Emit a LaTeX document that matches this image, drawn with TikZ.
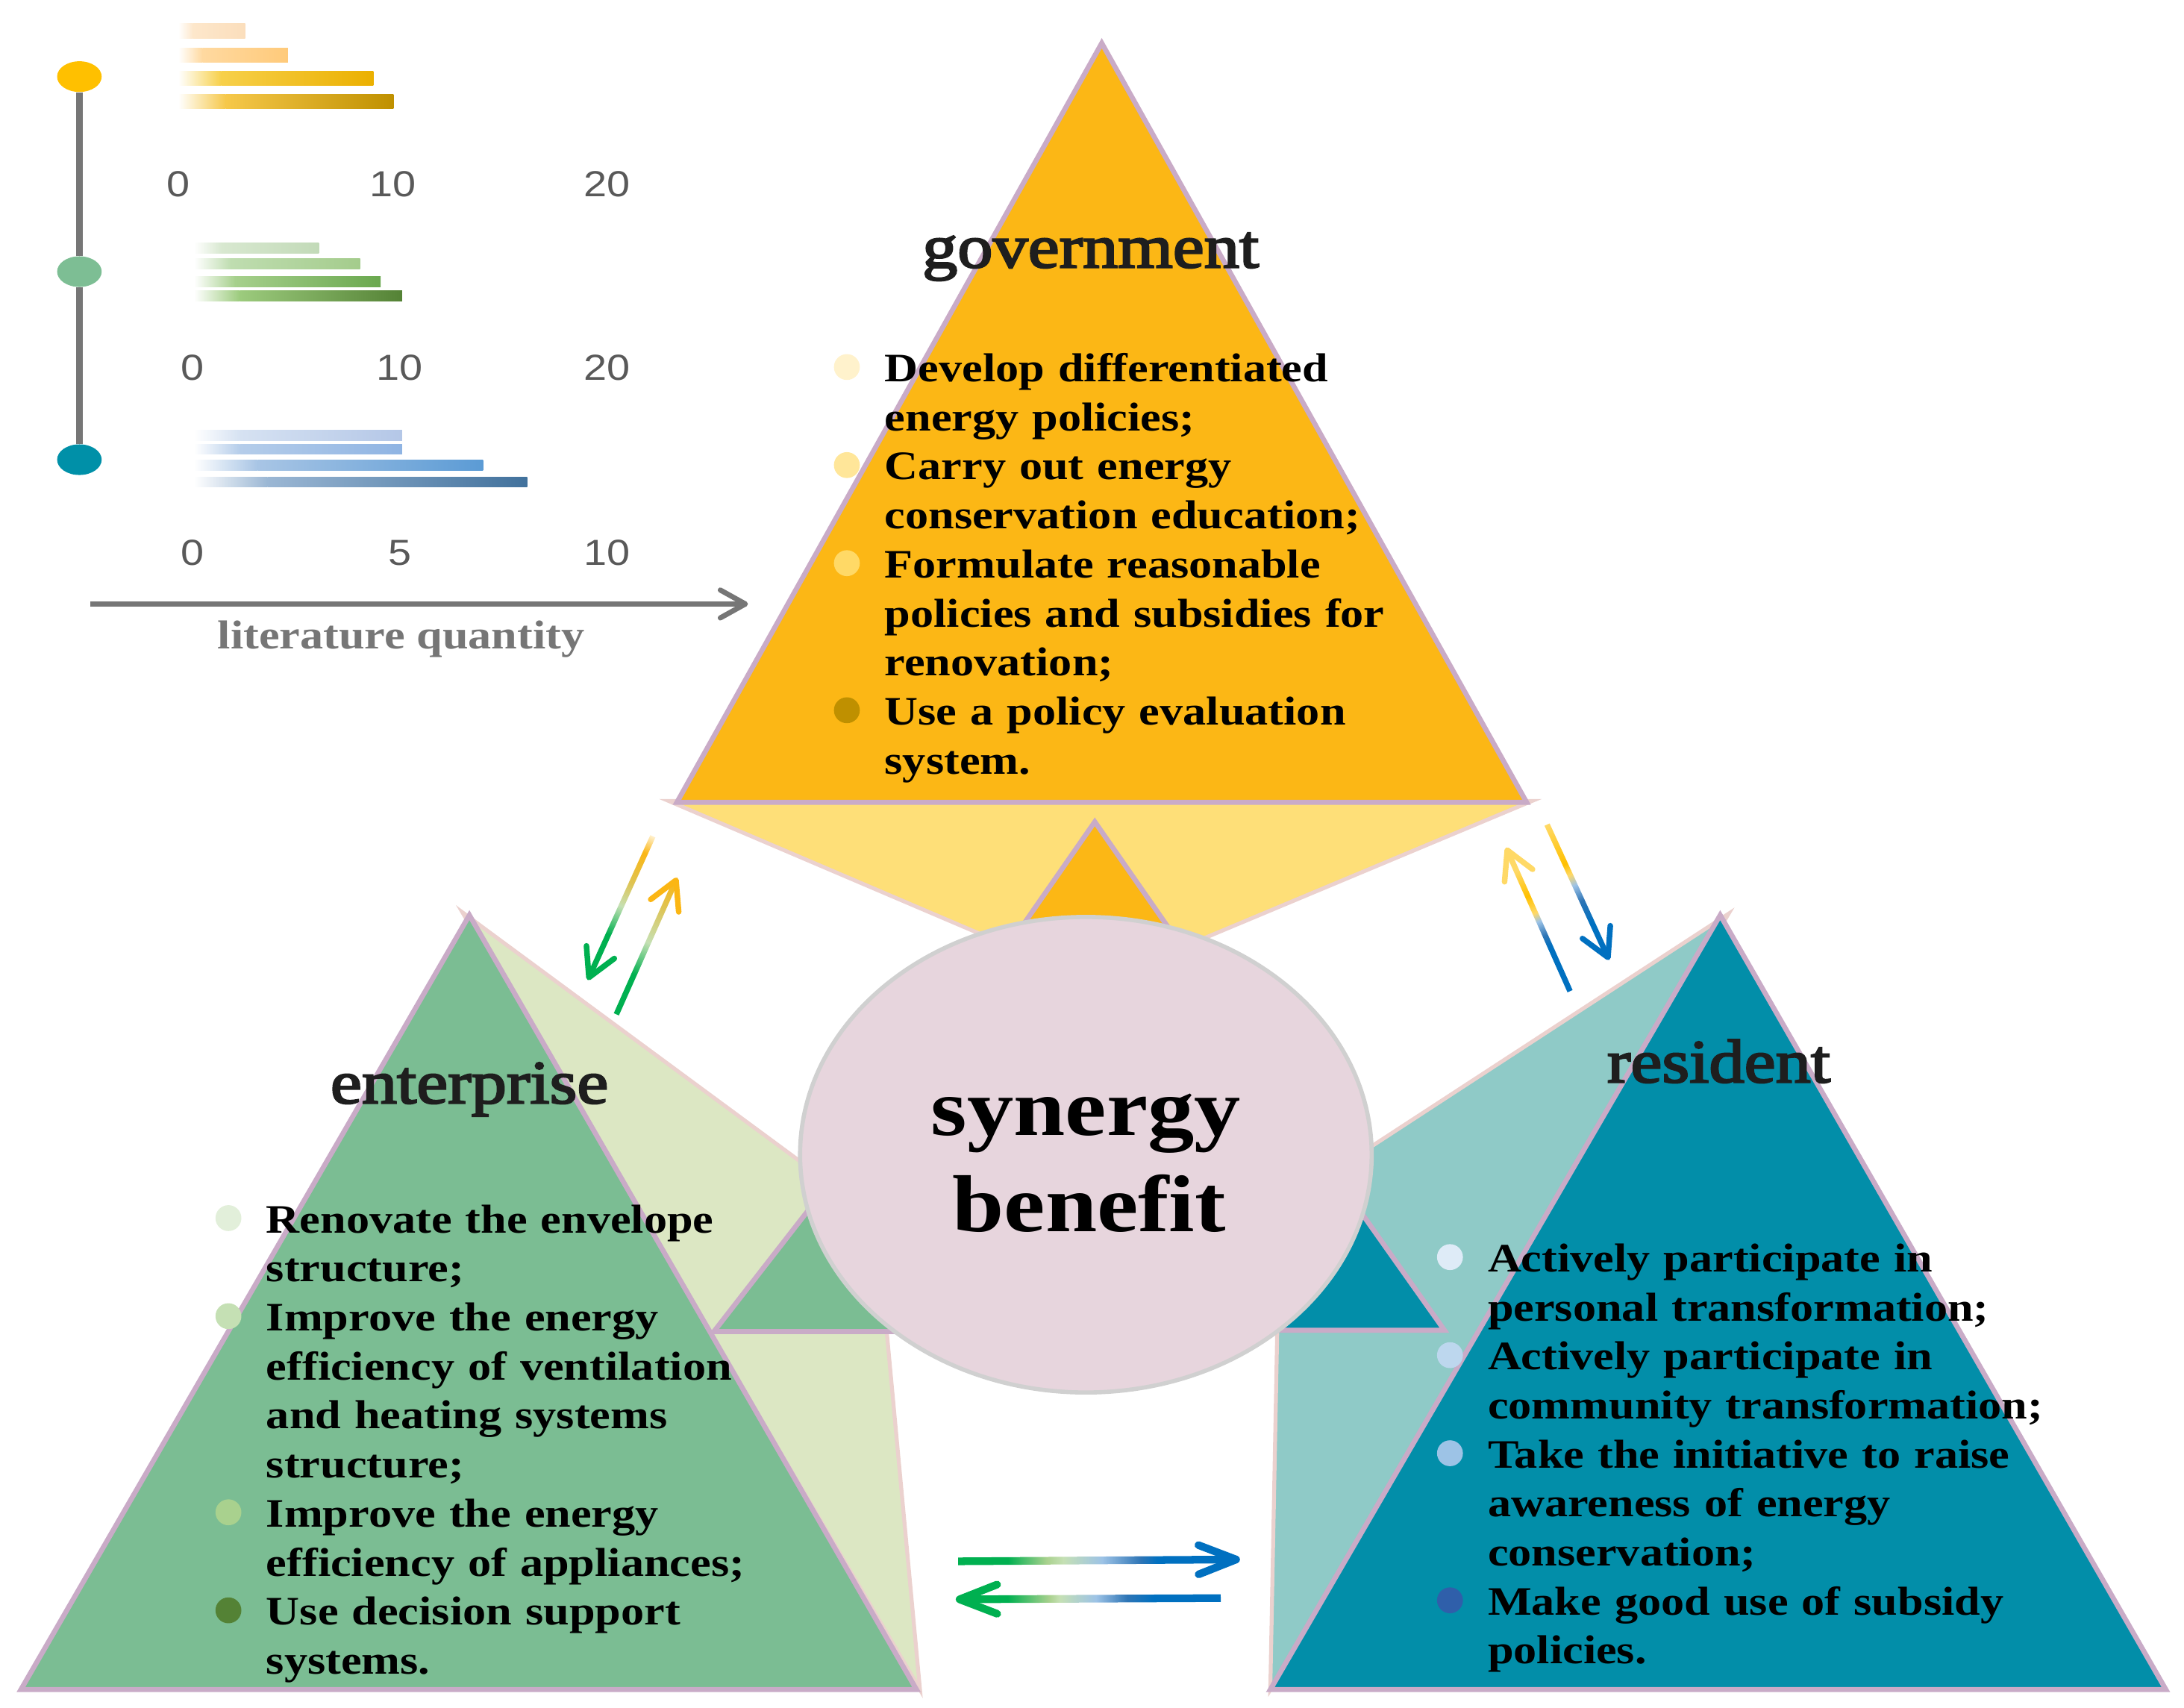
\documentclass[tikz,border=0pt]{standalone}
\usepackage{fontspec}
\setmainfont[FakeStretch=1.15]{Liberation Serif}
\newfontfamily\headfont[FakeStretch=1.15,FakeBold=3]{Liberation Serif}
\newfontfamily\numfont[FakeStretch=1.15]{Liberation Sans}
\usetikzlibrary{calc,arrows.meta,shapes.geometric}

% 色
\definecolor{govorange}{RGB}{252,183,21}
\definecolor{govlight}{RGB}{254,223,120}
\definecolor{entgreen}{RGB}{123,189,147}
\definecolor{entlight}{RGB}{220,231,195}
\definecolor{resteal}{RGB}{2,142,169}
\definecolor{reslight}{RGB}{143,202,199}
\definecolor{lilac}{RGB}{201,171,199}
\definecolor{pinkedge}{RGB}{235,209,206}
\definecolor{synfill}{RGB}{231,213,221}
\definecolor{synedge}{RGB}{208,208,208}
\definecolor{axisgray}{RGB}{118,118,118}
\definecolor{numgray}{RGB}{89,89,89}
\definecolor{headgray}{RGB}{30,30,30}
\definecolor{dotyellow}{RGB}{255,192,0}
\definecolor{dotgreen}{RGB}{125,190,148}
\definecolor{dotteal}{RGB}{0,144,168}
\definecolor{arrgreen}{RGB}{0,176,80}
\definecolor{arrlgreen}{RGB}{197,224,180}
\definecolor{arrmgreen}{RGB}{169,209,142}
\definecolor{arrmix}{RGB}{222,196,84}
\definecolor{arrorange}{RGB}{251,182,20}
\definecolor{arryellow}{RGB}{255,192,0}
\definecolor{arrlyellow}{RGB}{255,217,102}
\definecolor{arrcream}{RGB}{255,240,205}
\definecolor{arrblue}{RGB}{0,112,192}
\definecolor{arrmblue}{RGB}{46,117,182}
\definecolor{arrlblue}{RGB}{157,195,230}
\definecolor{gbul1}{RGB}{255,242,204}
\definecolor{gbul2}{RGB}{255,230,153}
\definecolor{gbul3}{RGB}{255,217,102}
\definecolor{gbul4}{RGB}{191,144,0}
\definecolor{ebul1}{RGB}{226,239,218}
\definecolor{ebul2}{RGB}{197,224,180}
\definecolor{ebul3}{RGB}{169,209,142}
\definecolor{ebul4}{RGB}{84,130,53}
\definecolor{rbul1}{RGB}{222,235,247}
\definecolor{rbul2}{RGB}{189,215,238}
\definecolor{rbul3}{RGB}{157,195,230}
\definecolor{rbul4}{RGB}{47,95,170}
\definecolor{ya1}{RGB}{253,231,203}\definecolor{yb1}{RGB}{251,222,188}
\definecolor{ya2}{RGB}{255,217,160}\definecolor{yb2}{RGB}{255,202,122}
\definecolor{ya3}{RGB}{247,208,74}\definecolor{yb3}{RGB}{235,176,0}
\definecolor{ya4}{RGB}{246,200,74}\definecolor{yb4}{RGB}{191,144,0}
\definecolor{ga1}{RGB}{216,232,208}\definecolor{gb1}{RGB}{194,218,184}
\definecolor{ga2}{RGB}{191,221,176}\definecolor{gb2}{RGB}{164,204,140}
\definecolor{ga3}{RGB}{166,208,140}\definecolor{gb3}{RGB}{106,168,79}
\definecolor{ga4}{RGB}{156,203,125}\definecolor{gb4}{RGB}{84,130,53}
\definecolor{ba1}{RGB}{214,226,242}\definecolor{bb1}{RGB}{180,199,231}
\definecolor{ba2}{RGB}{181,205,234}\definecolor{bb2}{RGB}{143,180,227}
\definecolor{ba3}{RGB}{168,197,229}\definecolor{bb3}{RGB}{91,155,213}
\definecolor{ba4}{RGB}{155,183,212}\definecolor{bb4}{RGB}{65,113,156}

% 矢印のグラデーション
\pgfdeclarehorizontalshading{gtoe}{100bp}{color(0bp)=(arrcream); color(25bp)=(arrcream); color(31bp)=(arrorange); color(42bp)=(arrmix); color(50bp)=(arrlgreen); color(60bp)=(arrgreen); color(100bp)=(arrgreen)}
\pgfdeclarehorizontalshading{etog}{100bp}{color(0bp)=(arrgreen); color(40bp)=(arrgreen); color(52bp)=(arrlgreen); color(65bp)=(arrmix); color(75bp)=(arrorange); color(100bp)=(arrorange)}
\pgfdeclarehorizontalshading{rtog}{100bp}{color(0bp)=(arrblue); color(41bp)=(arrblue); color(45bp)=(arrmblue); color(50bp)=(arrlblue); color(53bp)=(arrlyellow); color(59bp)=(arryellow); color(68bp)=(arrlyellow); color(100bp)=(arrlyellow)}
\pgfdeclarehorizontalshading{gtor}{100bp}{color(0bp)=(arrlyellow); color(25bp)=(arrlyellow); color(40bp)=(arryellow); color(44bp)=(arrlyellow); color(48bp)=(arrlblue); color(54bp)=(arrmblue); color(62bp)=(arrblue); color(100bp)=(arrblue)}
\pgfdeclarehorizontalshading{etor}{100bp}{color(0bp)=(arrgreen); color(34bp)=(arrgreen); color(41bp)=(arrmgreen); color(44bp)=(arrlgreen); color(51bp)=(arrlblue); color(58bp)=(arrmblue); color(61bp)=(arrblue); color(100bp)=(arrblue)}
\pgfdeclarehorizontalshading{rtoe}{100bp}{color(0bp)=(arrblue); color(38bp)=(arrblue); color(43bp)=(arrmblue); color(49bp)=(arrlblue); color(56bp)=(arrlgreen); color(58bp)=(arrmgreen); color(66bp)=(arrgreen); color(100bp)=(arrgreen)}

% グラデーション付き矢印
\newcommand\gradarrow[7]{%
  \path let \p1=($(#2)-(#1)$) in
    \pgfextra{\pgfmathsetmacro\garot{atan2(\y1,\x1)}%
      \pgfmathsetmacro\galen{veclen(\x1,\y1)}%
      \xdef\garot{\garot}\xdef\galen{\galen}};
  \begin{scope}[transform canvas={shift={(#1)},rotate=\garot}]
    \shade[shading=#3] (0,-#5/2) rectangle (\galen-1,#5/2);
    \draw[#4,line width=#5,line cap=round,line join=round]
      (\galen-#6,#7) -- (\galen,0) -- (\galen-#6,-#7);
  \end{scope}}

\begin{document}
\begin{tikzpicture}[x=1pt,y=-1pt,
  tri/.style={draw=lilac,line width=3.6},
  lightpart/.style={draw=pinkedge,line width=2.8},
  head/.style={anchor=base,inner sep=0,text=headgray,font=\headfont\fontsize{44}{48}\selectfont},
  items/.style={anchor=base west,inner sep=0,text width=520,align=left,
    font=\fontsize{29}{35.2}\selectfont\bfseries},
  bigword/.style={anchor=base,inner sep=0,font=\fontsize{58}{62}\selectfont\bfseries},
  num/.style={anchor=base,inner sep=0,text=numgray,font=\numfont\fontsize{26}{28}\selectfont},
  axisline/.style={draw=axisgray,line width=3.7},
  dot/.style={ellipse,minimum width=32,minimum height=22,inner sep=0}]
\useasboundingbox (0,0) rectangle (1568,1226);

% 左のグラフ
\node[dot,fill=dotyellow] (ydot) at (57,55) {};
\node[dot,fill=dotgreen] (gdot) at (57,195) {};
\node[dot,fill=dotteal] (bdot) at (57,330) {};
\draw[axisline,line width=4.5] (ydot) -- (gdot) -- (bdot);

\foreach \yc/\xe/\ca/\cb in {22.3/176/ya1/yb1,39.7/206.7/ya2/yb2,56.2/268/ya3/yb3,72.7/282.5/ya4/yb4}{
  \shade[left color=white,right color=\ca] (128,\yc-5.2) rectangle ({128+0.22*(\xe-128)},\yc+5.2);
  \shade[left color=\ca,right color=\cb] ({128+0.22*(\xe-128)},\yc-5.2) rectangle (\xe,\yc+5.2);
}
\foreach \yc/\xe/\ca/\cb in {178/229/ga1/gb1,189.4/258.6/ga2/gb2,202.1/273.3/ga3/gb3,212.2/288.7/ga4/gb4,
  312.4/288.7/ba1/bb1,322.5/288.7/ba2/bb2,334.1/346.8/ba3/bb3,346.1/378.5/ba4/bb4}{
  \shade[left color=white,right color=\ca] (139.4,\yc-3.7) rectangle ({139.4+0.22*(\xe-139.4)},\yc+3.7);
  \shade[left color=\ca,right color=\cb] ({139.4+0.22*(\xe-139.4)},\yc-3.7) rectangle (\xe,\yc+3.7);
}

\foreach \x/\t [count=\i] in {128.1/0,282/10,435.6/20}
  \node[num] (ynum\i) at (\x,141) {\t};
\foreach \x/\t [count=\i] in {138.4/0,287/10,435.6/20}
  \node[num] (gnum\i) at (\x,273) {\t};
\foreach \x/\t [count=\i] in {138.4/0,287/5,435.6/10}
  \node[num] (bnum\i) at (\x,406) {\t};

\coordinate (axs) at (65,433.6);
\coordinate (axe) at (537,433.6);
\draw[axisline,-{Straight Barb[length=18pt,width=20pt,round]}] (axs) -- (axe);
\node[anchor=base,inner sep=0,text=axisgray,font=\fontsize{29}{32}\selectfont\bfseries]
  (litq) at (288,466) {literature quantity};

% government
\filldraw[lightpart,fill=govlight] (480,575) -- (1100,575) -- (787,706) -- cycle;
\filldraw[tri,fill=govorange] (791,31) -- (486,576) -- (1096,576) -- cycle;
\filldraw[tri,fill=govorange] (786,590) -- (709.5,700) -- (862.5,700) -- cycle;

% enterprise
\filldraw[lightpart,fill=entlight] (332,655) -- (629,874) -- (660.5,1213) -- cycle;
\filldraw[tri,fill=entgreen] (337,657) -- (15,1213) -- (658,1213) -- cycle;
\filldraw[tri,fill=entgreen] (595,850) -- (512.5,956) -- (677.5,956) -- cycle;

% resident
\filldraw[lightpart,fill=reslight] (1241,656) -- (918.7,866) -- (912,1213) -- cycle;
\filldraw[tri,fill=resteal] (1235,657) -- (912,1213) -- (1555,1213) -- cycle;
\filldraw[tri,fill=resteal] (962,849) -- (887.5,955) -- (1037,955) -- cycle;

% synergy benefit
\node[ellipse,draw=synedge,fill=synfill,line width=3,minimum width=410.4,minimum height=341.4]
  (syn) at (779.6,829) {};
\node[bigword] (syn1) at ($(syn.center)+(0,-14)$) {synergy};
\node[bigword] (syn2) at ($(syn.center)+(2.4,55)$) {benefit};

% 見出し
\node[head] (govt) at (783,192) {government};
\node[head] (entt) at (337,792) {enterprise};
\node[head] (rest) at (1234,777) {resident};

% 項目
\node[items] (govlist) at (635,274) {Develop differentiated\\energy policies;\\Carry out energy\\conservation education;\\Formulate reasonable\\policies and subsidies for\\renovation;\\Use a policy evaluation\\system.};
\node[items] (entlist) at (191,885) {Renovate the envelope\\structure;\\Improve the energy\\efficiency of ventilation\\and heating systems\\structure;\\Improve the energy\\efficiency of appliances;\\Use decision support\\systems.};
\node[items] (reslist) at (1068,913) {Actively participate in\\personal transformation;\\Actively participate in\\community transformation;\\Take the initiative to raise\\awareness of energy\\conservation;\\Make good use of subsidy\\policies.};

\foreach \k/\c in {0/gbul1,2/gbul2,4/gbul3,7/gbul4}
  \fill[\c] ($(govlist.base west)+(-27,-10.5+35.2*\k)$) circle (9.3);
\foreach \k/\c in {0/ebul1,2/ebul2,6/ebul3,8/ebul4}
  \fill[\c] ($(entlist.base west)+(-27,-10.5+35.2*\k)$) circle (9.3);
\foreach \k/\c in {0/rbul1,2/rbul2,4/rbul3,7/rbul4}
  \fill[\c] ($(reslist.base west)+(-27,-10.5+35.2*\k)$) circle (9.3);

% 矢印
\coordinate (ge1) at (468.7,600.4); \coordinate (ge2) at (422.8,701.8);
\coordinate (eg1) at (442.5,728.2); \coordinate (eg2) at (485.4,631.8);
\coordinate (rg1) at (1127.2,711.6); \coordinate (rg2) at (1082.1,610.3);
\coordinate (gr1) at (1110.7,592); \coordinate (gr2) at (1154.5,687.5);
\coordinate (er1) at (687.9,1120.9); \coordinate (er2) at (887.5,1119.6);
\coordinate (re1) at (876.4,1147.3); \coordinate (re2) at (688.9,1148.2);
\gradarrow{ge1}{ge2}{gtoe}{arrgreen}{4}{20}{11}
\gradarrow{eg1}{eg2}{etog}{arrorange}{4}{20}{11}
\gradarrow{rg1}{rg2}{rtog}{arrlyellow}{4}{20}{11}
\gradarrow{gr1}{gr2}{gtor}{arrblue}{4}{20}{11}
\gradarrow{er1}{er2}{etor}{arrblue}{5.5}{27}{10.5}
\gradarrow{re1}{re2}{rtoe}{arrgreen}{5.5}{27}{10.5}

\end{tikzpicture}
\end{document}
